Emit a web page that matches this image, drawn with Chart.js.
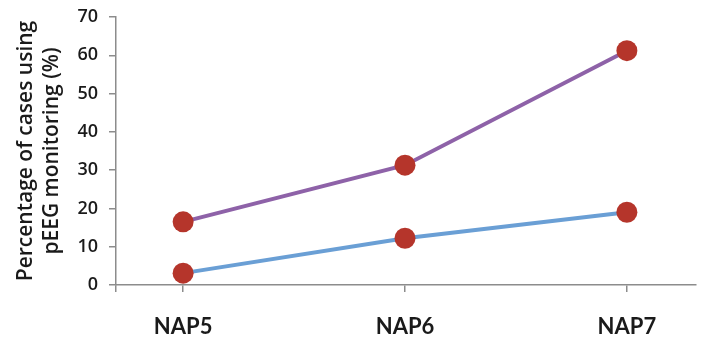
<!DOCTYPE html>
<html>
<head>
<meta charset="utf-8">
<script src="https://cdn.jsdelivr.net/npm/chart.js@4"></script>
<style>
  html, body { margin: 0; padding: 0; background: #fff; }
  #wrap { width: 701px; height: 343px; }
</style>
</head>
<body>
<div id="wrap"><canvas id="pEEGChart"></canvas></div>
<script>
// data
const categories = ['NAP5', 'NAP6', 'NAP7'];
const purpleValues = [16.5, 31.3, 61.2];
const blueValues = [3.1, 12.2, 19.0];
const yTicks = [0, 10, 20, 30, 40, 50, 60, 70];
const yTitle = ['Percentage of cases using', 'pEEG monitoring (%)'];

const axisGrey = '#8c8c8c';
const markerRed = '#b5352b';
const textColor = '#1a1a1a';

const toPoints = vals => vals.map((v, i) => ({ x: i, y: v }));

const ctx = document.getElementById('pEEGChart').getContext('2d');
new Chart(ctx, {
    type: 'line',
    data: {
        datasets: [
            {
                data: toPoints(purpleValues),
                borderColor: '#8e62a8',
                borderWidth: 4,
                pointRadius: 10.5,
                pointBackgroundColor: markerRed,
                pointBorderWidth: 0,
                tension: 0
            },
            {
                data: toPoints(blueValues),
                borderColor: '#6a9fd5',
                borderWidth: 4,
                pointRadius: 10.5,
                pointBackgroundColor: markerRed,
                pointBorderWidth: 0,
                tension: 0
            }
        ]
    },
    options: {
        responsive: true, maintainAspectRatio: false,
        animation: false,
        // no auto padding, so the plot area runs to the right edge like the original
        layout: { autoPadding: false, padding: { top: 17, right: 5, left: 0, bottom: 0 } },
        plugins: { legend: { display: false }, tooltip: { enabled: false } },
        scales: {
            x: {
                type: 'linear',
                min: -0.3025, max: 2.3115,
                afterBuildTicks: scale => {
                    // extra tick at the left end, where the axes meet
                    scale.ticks = [scale.min, 0, 1, 2].map(v => ({ value: v }));
                },
                afterFit: scale => { scale.height = 58; },
                border: { display: true, color: axisGrey, width: 1.5 },
                grid: { display: true, drawOnChartArea: false, drawTicks: true, tickLength: 7, color: axisGrey, lineWidth: 1.5 },
                ticks: {
                    autoSkip: false, maxRotation: 0,
                    padding: 22,
                    color: textColor,
                    font: { family: 'Lato', size: 22, weight: 'bold' },
                    callback: v => categories[v] ?? ''
                }
            },
            y: {
                min: 0, max: 70,
                afterBuildTicks: scale => {
                    scale.ticks = yTicks.map(v => ({ value: v }));
                },
                afterFit: scale => { scale.width = 116; },
                border: { display: true, color: axisGrey, width: 1.5 },
                grid: { display: true, drawOnChartArea: false, drawTicks: true, tickLength: 7, color: axisGrey, lineWidth: 1.5 },
                ticks: {
                    padding: 11,
                    color: textColor,
                    font: { family: 'Open Sans', size: 18, weight: '600', lineHeight: 0.5 }
                },
                title: {
                    display: true,
                    text: yTitle,
                    color: textColor,
                    font: { family: 'Open Sans', size: 21, weight: '600', lineHeight: 1.25 },
                    padding: { top: 13, bottom: 0 }
                }
            }
        }
    }
});
</script>
</body>
</html>
